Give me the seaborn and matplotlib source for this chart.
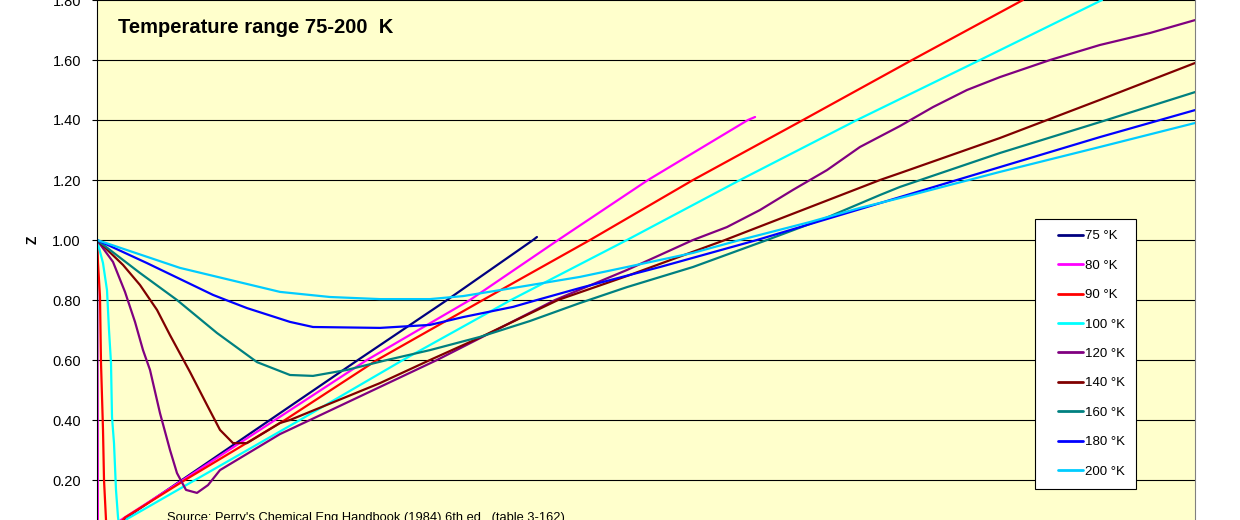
import numpy as np
import pandas as pd
import matplotlib
matplotlib.use("Agg")
import matplotlib.pyplot as plt
import seaborn as sns
from matplotlib.lines import Line2D
from matplotlib.legend_handler import HandlerLine2D
from matplotlib.ticker import FormatStrFormatter

sns.set_style("white")
plt.rcParams["font.family"] = ["Liberation Sans", "DejaVu Sans"]
plt.rcParams["text.color"] = "black"

# Compressibility factor Z vs pressure (bar)
temps = ["75 °K", "80 °K", "90 °K", "100 °K", "120 °K", "140 °K", "160 °K", "180 °K", "200 °K"]
colors = ["#000080", "#FF00FF", "#FF0000", "#00FFFF", "#800080",
          "#800000", "#008080", "#0000FF", "#00CCFF"]

p_75 = [0, 0.3, 5.0, 14.2, 46.4, 94.5, 142.6, 191.3, 238.3, 240.4]
z_75 = [1.0, 0.01, 0.03, 0.067, 0.20, 0.40, 0.60, 0.80, 1.00, 1.01]

p_80 = [0, 0.5, 5.5, 13.1, 47.0, 97.3, 147.5, 203.8, 252.0, 301.1, 355.7, 359.6]
z_80 = [1.0, 0.012, 0.033, 0.067, 0.20, 0.40, 0.60, 0.80, 1.00, 1.20, 1.40, 1.41]

p_90 = [0, 0.55, 1.64, 2.19, 3.28, 3.83, 4.92, 5.8, 15.3, 48.1, 102.7, 153.0,
        210.9, 269.4, 325.7, 385.8, 445.4, 506.0]
z_90 = [1.0, 0.923, 0.81, 0.59, 0.367, 0.20, 0.067, 0.012, 0.075, 0.20, 0.40, 0.60,
        0.80, 1.00, 1.20, 1.40, 1.60, 1.80]

p_100 = [0, 3.28, 5.46, 6.56, 7.65, 8.20, 9.29, 10.38, 11.47, 12.57, 16.4, 53.6,
         110.9, 167.2, 226.2, 289.6, 351.4, 415.3, 482.5, 549.2]
z_100 = [1.0, 0.923, 0.833, 0.70, 0.59, 0.41, 0.323, 0.167, 0.077, 0.017, 0.07, 0.20,
         0.40, 0.60, 0.80, 1.00, 1.20, 1.40, 1.60, 1.80]

p_120 = [0, 8.74, 15.30, 20.77, 25.14, 28.96, 34.42, 39.89, 43.71, 48.63,
         54.64, 60.65, 67.21, 78.14, 100.0, 116.4, 185.8, 250.3, 289.6, 325.7,
         344.2, 362.3, 380.3, 398.9, 416.9, 438.8, 456.8, 475.4, 493.4, 520.8,
         548.0, 575.4, 600.0]
z_120 = [1.0, 0.927, 0.827, 0.727, 0.633, 0.567, 0.423, 0.30, 0.223, 0.167,
         0.157, 0.183, 0.233, 0.273, 0.353, 0.40, 0.60, 0.80, 0.90, 1.00,
         1.043, 1.10, 1.167, 1.233, 1.31, 1.38, 1.443, 1.50, 1.543, 1.60,
         1.65, 1.69, 1.733]

p_140 = [0, 14.21, 23.50, 32.79, 39.89, 50.82, 60.11, 67.21, 74.32, 81.97, 100.0,
         105.46, 154.64, 181.97, 209.29, 251.91, 289.62, 343.17, 427.87, 438.8,
         493.4, 548.0, 600.0]
z_140 = [1.0, 0.917, 0.85, 0.767, 0.683, 0.56, 0.45, 0.367, 0.323, 0.323, 0.39,
         0.40, 0.523, 0.60, 0.675, 0.80, 0.88, 1.0, 1.2, 1.223,
         1.34, 1.467, 1.59]

p_160 = [0, 23.5, 43.71, 65.57, 87.43, 105.46, 118.03, 136.61, 158.47, 181.97,
         209.29, 236.61, 263.93, 289.62, 325.68, 366.12, 398.91, 427.87, 438.8,
         493.4, 548.0, 600.0]
z_160 = [1.0, 0.89, 0.80, 0.69, 0.593, 0.55, 0.547, 0.567, 0.60, 0.633,
         0.677, 0.73, 0.79, 0.843, 0.91, 1.0, 1.075, 1.15, 1.177,
         1.29, 1.393, 1.493]

p_180 = [0, 27.32, 63.39, 70.49, 81.97, 105.46, 118.03, 154.64, 181.97, 200.0,
         227.32, 240.44, 263.93, 307.65, 360.66, 398.91, 427.87, 438.8, 493.4,
         548.0, 600.0]
z_180 = [1.0, 0.923, 0.817, 0.80, 0.773, 0.727, 0.71, 0.707, 0.717, 0.743,
         0.777, 0.80, 0.84, 0.91, 1.0, 1.07, 1.123, 1.143, 1.243,
         1.343, 1.433]

p_200 = [0, 45.35, 100.0, 127.32, 154.64, 181.97, 200.0, 227.32, 263.93, 289.62,
         325.68, 351.37, 389.62, 416.94, 438.80, 493.4, 548.0, 600.0]
z_200 = [1.0, 0.907, 0.827, 0.81, 0.803, 0.803, 0.813, 0.84, 0.877, 0.91,
         0.957, 1.0, 1.06, 1.107, 1.14, 1.227, 1.31, 1.39]

series = [(p_75, z_75), (p_80, z_80), (p_90, z_90), (p_100, z_100), (p_120, z_120),
          (p_140, z_140), (p_160, z_160), (p_180, z_180), (p_200, z_200)]

W, H = 1240, 520
fig = plt.figure(figsize=(W / 100, H / 100), dpi=100)
fig.patch.set_facecolor("white")
# plot area: x 97..1195 px, Z=0 sits 20 px below the bottom edge (chart is cropped)
ax = fig.add_axes([97 / W, -20 / H, 1098 / W, 540 / H])
ax.set_facecolor("#FFFFCC")

for (p, z), t, c in zip(series, temps, colors):
    sns.lineplot(x=p, y=z, color=c, label=t, sort=False, estimator=None,
                 lw=1.6, ax=ax)

ax.set_xlim(0, 600)
ax.set_ylim(0, 1.8)
ax.set_yticks(np.arange(0.2, 1.81, 0.2))
ax.yaxis.set_major_formatter(FormatStrFormatter("%.2f"))
ax.set_xticks([])
ax.set_xlabel("")
ax.set_ylabel("")
ax.grid(axis="y", color="black", lw=0.8)
ax.set_axisbelow(True)
ax.tick_params(axis="y", direction="out", length=3.6, width=0.8, pad=8,
               labelsize=10.5, colors="black", left=True)
ax.spines["top"].set_visible(False)
ax.spines["bottom"].set_visible(False)
ax.spines["left"].set_color("black")
ax.spines["left"].set_linewidth(0.8)
ax.spines["right"].set_color("#808080")
ax.spines["right"].set_linewidth(0.8)

leg = ax.legend(loc="upper left", bbox_to_anchor=(1035 / W, 1 - 219 / H),
                bbox_transform=fig.transFigure, frameon=True, fancybox=False,
                framealpha=1, facecolor="white", edgecolor="black", fontsize=9.5,
                handlelength=2.8, handletextpad=0.15, labelspacing=1.3,
                borderpad=0.85, borderaxespad=0,
                handler_map={Line2D: HandlerLine2D(xpad=0.9)})
leg.get_frame().set_linewidth(0.8)
for line in leg.get_lines():
    line.set_linewidth(2)

fig.text(118 / W, 1 - 33 / H, "Temperature range 75-200  K", fontsize=14.5,
         fontweight="bold", ha="left", va="baseline")
fig.text(33 / W, 1 - 240 / H, "Z", fontsize=10, fontweight="bold", rotation=90,
         ha="center", va="center")
fig.text(167 / W, -1 / H, "Source: Perry's Chemical Eng Handbook (1984) 6th ed.  (table 3-162)",
         fontsize=9.3, ha="left", va="baseline")

fig.savefig("out.png", dpi=100, facecolor="white")
